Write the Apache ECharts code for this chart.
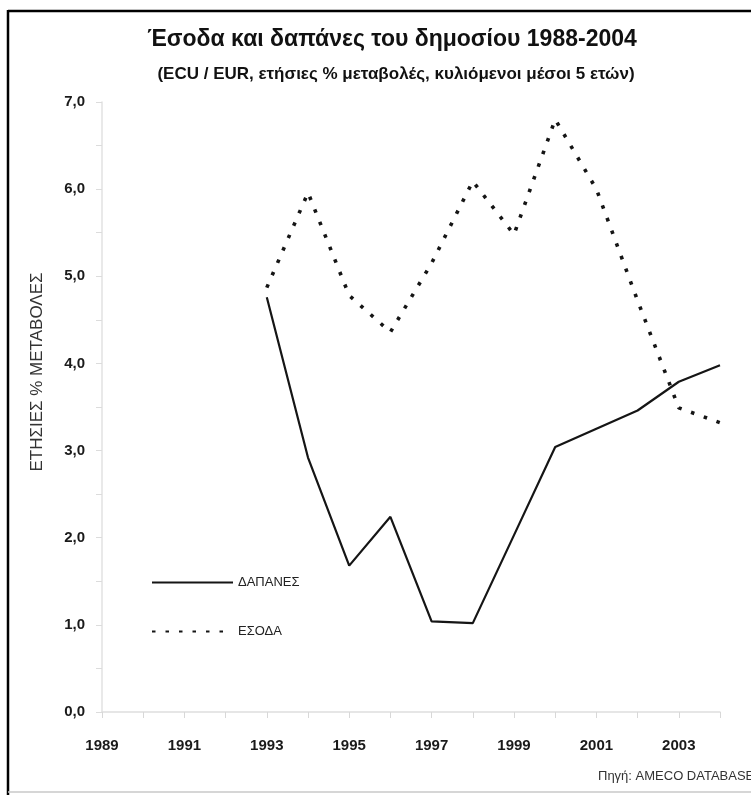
<!DOCTYPE html>
<html>
<head>
<meta charset="utf-8">
<script src="https://cdn.jsdelivr.net/npm/echarts@6/dist/echarts.min.js"></script>
<style>
  html, body { margin: 0; padding: 0; background: #fff; }
  #chart { width: 751px; height: 795px; }
</style>
</head>
<body>
<div id="chart"></div>
<script>
// Years on the horizontal axis (every other one is labelled)
const years = ['1989','1990','1991','1992','1993','1994','1995','1996','1997','1998','1999','2000','2001','2002','2003','2004'];

// Annual % change, 5-year moving averages (null = no value)
const spending = [null, null, null, null, 4.76, 2.92, 1.68, 2.24, 1.04, 1.02, 2.03, 3.04, 3.25, 3.46, 3.79, 3.98];
const revenue  = [null, null, null, null, 4.87, 5.96, 4.78, 4.36, 5.15, 6.09, 5.48, 6.80, 6.00, 4.72, 3.49, 3.32];

const seriesNames = ['ΔΑΠΑΝΕΣ', 'ΕΣΟΔΑ'];
const yAxisTitle = 'ΕΤΗΣΙΕΣ % ΜΕΤΑΒΟΛΕΣ';

const NARROW = '"Liberation Sans Narrow", "Arial Narrow", "Liberation Sans", sans-serif';
const SANS = '"Liberation Sans", Arial, sans-serif';

const chart = echarts.init(document.getElementById('chart'), null, { renderer: 'canvas' });

chart.setOption({
  backgroundColor: '#ffffff',
  animation: false,
  grid: { left: 102, right: 31, top: 102, bottom: 83, containLabel: false, outerBoundsMode: 'none' },
  legend: {
    orient: 'vertical',
    left: 146,
    top: 571,
    itemWidth: 81,
    itemHeight: 14,
    itemGap: 36,
    data: seriesNames,
    itemStyle: { opacity: 0 },
    textStyle: { fontFamily: SANS, fontSize: 13, color: '#222' }
  },
  xAxis: {
    type: 'category',
    data: years,
    boundaryGap: false,
    axisLine: { lineStyle: { color: '#dedede', width: 1.5 } },
    axisTick: { show: true, interval: 0, length: 6, lineStyle: { color: '#d8d8d8' } },
    axisLabel: {
      interval: 1,
      margin: 26,
      fontFamily: NARROW,
      fontWeight: 'bold',
      fontSize: 15,
      color: '#1a1a1a'
    },
    splitLine: { show: false }
  },
  yAxis: {
    type: 'value',
    min: 0,
    max: 7,
    interval: 1,
    axisLine: { show: true, lineStyle: { color: '#e2e2e2', width: 1.5 } },
    axisTick: { show: true, length: 6, lineStyle: { color: '#dcdcdc' } },
    minorTick: { show: true, splitNumber: 2, length: 6, lineStyle: { color: '#dcdcdc' } },
    axisLabel: {
      margin: 17,
      fontFamily: NARROW,
      fontWeight: 'bold',
      fontSize: 15,
      color: '#1a1a1a',
      formatter: v => v.toFixed(1).replace('.', ',')
    },
    splitLine: { show: false }
  },
  series: [
    {
      name: seriesNames[0],
      type: 'line',
      data: spending,
      symbol: 'none',
      connectNulls: false,
      lineStyle: { color: '#151515', width: 2.2 },
      itemStyle: { color: '#151515' }
    },
    {
      name: seriesNames[1],
      type: 'line',
      data: revenue,
      symbol: 'none',
      connectNulls: false,
      lineStyle: { color: '#151515', width: 3.6, type: [3.5, 10] },
      itemStyle: { color: '#151515' }
    }
  ],
  graphic: [
    // frame
    { type: 'line', shape: { x1: 8, y1: 11, x2: 760, y2: 11 }, style: { stroke: '#000', lineWidth: 2.5 } },
    { type: 'line', shape: { x1: 8, y1: 10, x2: 8, y2: 795 }, style: { stroke: '#000', lineWidth: 2.5 } },
    { type: 'line', shape: { x1: 8, y1: 792, x2: 760, y2: 792 }, style: { stroke: '#c8c8c8', lineWidth: 1.5 } },
    // titles
    {
      type: 'text', x: 392, y: 40,
      style: {
        text: 'Έσοδα και δαπάνες του δημοσίου 1988-2004',
        fontFamily: NARROW, fontSize: 23, fontWeight: 'bold', fill: '#111',
        textAlign: 'center', textVerticalAlign: 'middle'
      }
    },
    {
      type: 'text', x: 396, y: 74,
      style: {
        text: '(ECU / EUR, ετήσιες % μεταβολές, κυλιόμενοι μέσοι 5 ετών)',
        fontFamily: NARROW, fontSize: 17, fontWeight: 'bold', fill: '#111',
        textAlign: 'center', textVerticalAlign: 'middle'
      }
    },
    // vertical axis title
    {
      type: 'text', x: 37, y: 372, rotation: Math.PI / 2,
      style: {
        text: yAxisTitle,
        fontFamily: NARROW, fontSize: 17, fill: '#333',
        textAlign: 'center', textVerticalAlign: 'middle'
      }
    },
    // source note
    {
      type: 'text', x: 598, y: 776,
      style: {
        text: 'Πηγή: AMECO DATABASE',
        fontFamily: SANS, fontSize: 13, fill: '#333',
        textAlign: 'left', textVerticalAlign: 'middle'
      }
    }
  ]
});
</script>
</body>
</html>
